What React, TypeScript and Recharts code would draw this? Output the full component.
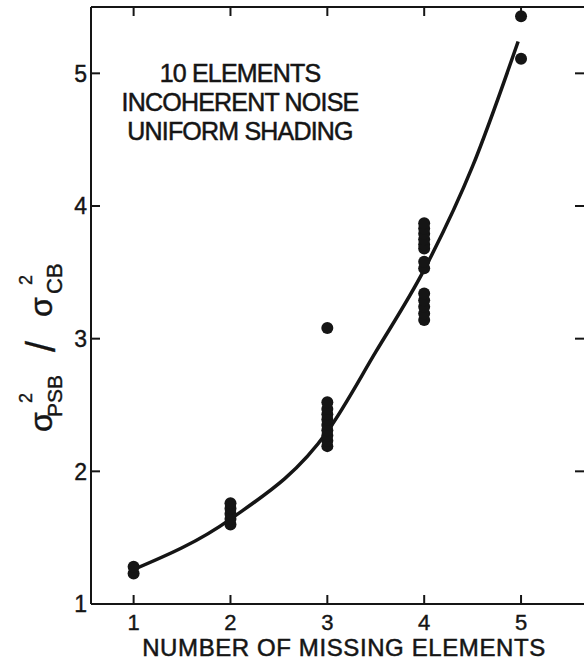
import React from "react";
import { ComposedChart, XAxis, YAxis, Scatter, Line } from "recharts";

// ---- data ----
const missingElements = [1, 2, 3, 4, 5];
const ratioAt1 = [1.23, 1.28];
const ratioAt2 = [1.6, 1.64, 1.68, 1.72, 1.76];
const ratioAt3 = [2.19, 2.23, 2.27, 2.31, 2.35, 2.39, 2.43, 2.47, 2.52, 3.08];
const ratioAt4 = [3.14, 3.19, 3.24, 3.29, 3.34, 3.53, 3.58, 3.68, 3.71, 3.75, 3.79, 3.83, 3.87];
const ratioAt5 = [5.11, 5.43];
const fitX = [1, 2, 3, 3.5, 4, 4.5, 4.97];
const fitY = [1.26, 1.64, 2.3, 2.9, 3.52, 4.3, 5.24];
const xTicks = [1, 2, 3, 4, 5];
const yTicks = [1, 2, 3, 4, 5];
const noteLines = ["10 ELEMENTS", "INCOHERENT NOISE", "UNIFORM SHADING"];
const xTitle = "NUMBER OF MISSING ELEMENTS";

const groups = [ratioAt1, ratioAt2, ratioAt3, ratioAt4, ratioAt5];
const points = groups.flatMap((vals, i) => vals.map((v) => ({ x: missingElements[i], y: v })));
const fitData = fitX.map((x, i) => ({ x, y: fitY[i] }));

const INK = "#151515";
const FONT = "'Liberation Sans', Arial, sans-serif";

const LeftTick = (p: any) => (
  <g>
    <line x1={p.x} y1={p.y} x2={p.x + 9} y2={p.y} stroke={INK} strokeWidth={2} />
    <text x={p.x - 4} y={p.y} dy="0.36em" textAnchor="end" fontSize={23} fontFamily={FONT} fill={INK} stroke={INK} strokeWidth={0.4}>
      {p.payload.value}
    </text>
  </g>
);
const RightTick = (p: any) => (
  <line x1={p.x} y1={p.y} x2={p.x - 9} y2={p.y} stroke={INK} strokeWidth={2} />
);
const BottomTick = (p: any) => (
  <g>
    <line x1={p.x} y1={p.y} x2={p.x} y2={p.y - 9} stroke={INK} strokeWidth={2} />
    <text x={p.x} y={p.y + 26} textAnchor="middle" fontSize={22} fontFamily={FONT} fill={INK} stroke={INK} strokeWidth={0.4}>
      {p.payload.value}
    </text>
  </g>
);
const TopTick = (p: any) => (
  <line x1={p.x} y1={p.y} x2={p.x} y2={p.y + 9} stroke={INK} strokeWidth={2} />
);

const YTitle = () => (
  <g transform="rotate(-90)" fontFamily={FONT} fill={INK} stroke={INK} strokeWidth={0.4}>
    <text x={-432} y={52} fontSize={32}>σ</text>
    <text x={-403} y={32} fontSize={18}>2</text>
    <text x={-417} y={62} fontSize={21}>PSB</text>
    <text x={-352} y={55} fontSize={40}>/</text>
    <text x={-317} y={52} fontSize={32}>σ</text>
    <text x={-285} y={32} fontSize={18}>2</text>
    <text x={-294} y={62} fontSize={22}>CB</text>
  </g>
);

const Texts = () => (
  <g fontFamily={FONT} fill={INK} stroke={INK} strokeWidth={0.5}>
    <text x={344} y={656} textAnchor="middle" fontSize={24} letterSpacing={0.6}>
      {xTitle}
    </text>
    {noteLines.map((t, i) => (
      <text key={i} x={240} y={82 + i * 29} textAnchor="middle" fontSize={25} letterSpacing={-0.8}>
        {t}
      </text>
    ))}
  </g>
);

const Dot = (p: any) => <circle cx={p.cx} cy={p.cy} r={6} fill={INK} />;

export default function App() {
  return (
    <div style={{ position: "absolute", left: 0, top: 0, width: 585, height: 670, background: "#fff" }}>
      <ComposedChart width={585} height={670} margin={{ top: 6, right: 0, bottom: 0, left: 0 }}>
        <XAxis
          xAxisId="b"
          dataKey="x"
          type="number"
          orientation="bottom"
          domain={[0.56, 5.65]}
          ticks={xTicks}
          height={66}
          tickSize={0}
          tickMargin={0}
          tickLine={false}
          axisLine={{ stroke: INK, strokeWidth: 2 }}
          tick={<BottomTick />}
          label={<Texts />}
        />
        <XAxis
          xAxisId="t"
          dataKey="x"
          type="number"
          orientation="top"
          domain={[0.56, 5.65]}
          ticks={xTicks}
          height={1}
          tickSize={0}
          tickMargin={0}
          tickLine={false}
          axisLine={{ stroke: INK, strokeWidth: 2 }}
          tick={<TopTick />}
        />
        <YAxis
          yAxisId="l"
          dataKey="y"
          type="number"
          orientation="left"
          domain={[1, 5.5]}
          ticks={yTicks}
          width={91}
          tickSize={0}
          tickMargin={0}
          tickLine={false}
          axisLine={{ stroke: INK, strokeWidth: 2 }}
          tick={<LeftTick />}
          label={<YTitle />}
        />
        <YAxis
          yAxisId="r"
          dataKey="y"
          type="number"
          orientation="right"
          domain={[1, 5.5]}
          ticks={yTicks}
          width={1}
          tickSize={0}
          tickMargin={0}
          tickLine={false}
          axisLine={false}
          tick={<RightTick />}
        />
        <Line
          xAxisId="t"
          yAxisId="r"
          data={fitData}
          dataKey="y"
          type="linear"
          stroke="none"
          dot={false}
          activeDot={false}
          isAnimationActive={false}
        />
        <Line
          xAxisId="b"
          yAxisId="l"
          data={fitData}
          dataKey="y"
          type="monotone"
          stroke={INK}
          strokeWidth={3.5}
          strokeLinejoin="round"
          dot={false}
          isAnimationActive={false}
        />
        <Scatter
          xAxisId="b"
          yAxisId="l"
          data={points}
          dataKey="y"
          shape={<Dot />}
          isAnimationActive={false}
        />
      </ComposedChart>
    </div>
  );
}
